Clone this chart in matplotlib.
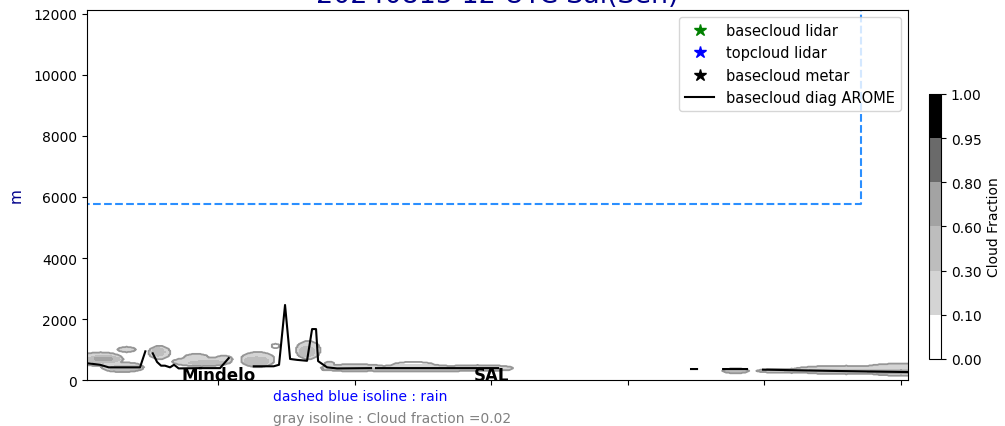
import numpy as np
import matplotlib
matplotlib.use("Agg")
import matplotlib.pyplot as plt
from matplotlib.colors import ListedColormap, BoundaryNorm

# ---------------- data ----------------
title = "20240815 12 UTC Sal(Sen)"

# cloud fraction contour levels and colours
cf_levels = [0.0, 0.10, 0.30, 0.60, 0.80, 0.95, 1.00]
cf_colors = ["#ffffff", "#d4d4d4", "#bdbdbd", "#a3a3a3", "#6a6a6a", "#000000"]

# cloud patches: (x centre, z centre [m], half-width, half-height [m], cloud fraction)
cloud_patches = [
    (14, 680, 16, 220, 0.20), (16, 680, 12, 120, 0.45), (16, 690, 7, 60, 0.70),
    (30, 420, 15, 150, 0.20), (33, 390, 12, 100, 0.45),
    (33, 1000, 6, 80, 0.15),
    (57, 900, 7.5, 210, 0.20), (56, 920, 5, 140, 0.35),
    (88, 600, 21, 140, 0.20), (84, 720, 9, 130, 0.15), (104, 680, 6, 110, 0.20), (93, 560, 14, 70, 0.45),
    (129, 670, 12, 240, 0.20), (128, 610, 9, 150, 0.45),
    (142, 1115, 3, 65, 0.06),
    (166, 980, 8.5, 290, 0.20), (165, 930, 5.5, 170, 0.45),
    (181.5, 510, 3.5, 80, 0.20),
    (200, 400, 24, 110, 0.20), (245, 400, 28, 100, 0.20), (290, 390, 26, 90, 0.20),
    (243, 480, 16, 110, 0.05), (245, 340, 68, 45, 0.35),
    (479, 300, 9, 70, 0.50),
    (520, 300, 25, 60, 0.20), (560, 330, 40, 130, 0.20), (600, 340, 30, 190, 0.25),
    (560, 280, 45, 50, 0.50), (600, 270, 25, 70, 0.65),
]

# basecloud diag AROME (NaN = no cloud base)
base_x = [4.0, 13.5, 19.9, 42.8, 46.7, np.nan,
          52.1, 55.3, 58.2, 61.1, 64.8, 67.7, 71.1, 86.8, 101.4, 107.8, np.nan,
          126.1, 140.7, 144.6, 149.0, 152.7, 157.8, 165.1, 168.8, 171.7, 173.2, 179.8, 187.1, 212.0, np.nan,
          215.6, 305.0, np.nan,
          446.3, 450.7, np.nan,
          469.8, 487.3, np.nan,
          499.0, 548.0, 606.0]
base_z = [550, 500, 415, 415, 940, np.nan,
          875, 590, 470, 470, 415, 500, 380, 390, 390, 720, np.nan,
          450, 450, 500, 2460, 690, 660, 630, 1670, 1670, 620, 415, 380, 390, np.nan,
          390, 390, np.nan,
          360, 360, np.nan,
          360, 360, np.nan,
          340, 300, 260]

# rain isoline
rain_x = [0, 571, 571]
rain_z = [5780, 5780, 12500]

# locations on the transect
place_x = [100, 300]
place_names = ["Mindelo", "SAL"]

x_ticks = [100, 200, 300, 400, 500, 600]
y_ticks = [0, 2000, 4000, 6000, 8000, 10000, 12000]

# ---------------- figure ----------------
fig = plt.figure(figsize=(10.05, 4.27), dpi=100)
ax = fig.add_axes([0.0866, 0.1077, 0.8169, 0.8665])
cax = fig.add_axes([0.9244, 0.157, 0.0119, 0.6206])

gx = np.arange(0, 612, 1.0)
gz = np.arange(0, 1600, 20.0)
X, Z = np.meshgrid(gx, gz)
cf = np.zeros_like(X)
for xc, zc, rx, rz, v in cloud_patches:
    inside = ((X - xc) / rx) ** 2 + ((Z - zc) / rz) ** 2 <= 1
    cf = np.where(inside, np.maximum(cf, v), cf)

cmap = ListedColormap(cf_colors)
norm = BoundaryNorm(cf_levels, cmap.N)
cs = ax.contourf(X, Z, cf, levels=cf_levels, cmap=cmap, norm=norm)
ax.contour(X, Z, cf, levels=[0.02], colors="#969696", linewidths=1.3)

ax.plot(rain_x, rain_z, ls="--", color="#2b8fff", lw=1.5)

ax.plot([], [], ls="", marker="*", color="green", ms=9, label="basecloud lidar")
ax.plot([], [], ls="", marker="*", color="blue", ms=9, label="topcloud lidar")
ax.plot([], [], ls="", marker="*", color="black", ms=9, label="basecloud metar")
ax.plot(base_x, base_z, color="black", lw=1.5, label="basecloud diag AROME")

for px, name in zip(place_x, place_names):
    ax.text(px, 0, name, ha="center", va="baseline", fontsize=12, fontweight="bold")

ax.set_xlim(4, 605.2)
ax.set_ylim(0, 12130)
ax.set_xticks(x_ticks)
ax.set_xticklabels([])
ax.set_yticks(y_ticks)
ax.set_ylabel("m", color="darkblue", fontsize=11, labelpad=7)
ax.set_title(title, color="darkblue", fontsize=19.4)
ax.legend(loc="upper right", fontsize=10.5)

cb = fig.colorbar(cs, cax=cax, ticks=cf_levels, format="%.2f")
cb.set_label("Cloud Fraction")

fig.text(0.2716, 0.0703, "dashed blue isoline : rain", color="blue", fontsize=10, va="center")
fig.text(0.2716, 0.0187, "gray isoline : Cloud fraction =0.02", color="gray", fontsize=10, va="center")

fig.savefig("out.png", dpi=100)
